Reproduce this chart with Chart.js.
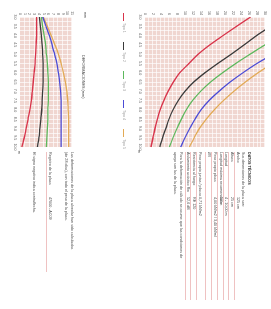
<!DOCTYPE html>
<html>
<head>
<meta charset="utf-8">
<script src="https://cdn.jsdelivr.net/npm/chart.js@4.4.0/dist/chart.umd.min.js"></script>
<style>
html, body { margin: 0; padding: 0; background: #fff; overflow: hidden; }
body { width: 271px; height: 309px; position: relative; font-family: "Liberation Sans", Arial, sans-serif; color: #4a4a4a; }
#hoja { position: absolute; left: 0; top: 0; width: 309px; height: 271px; transform-origin: 0 0; transform: translate(271px, 0) rotate(90deg); }
.abs { position: absolute; }
#grafica { left: 0; top: 0; }
#deformacion { left: 0; top: 180px; }
.mini { font-size: 3.7px; line-height: 5.7px; white-space: nowrap; }
#tabla { left: 152px; top: 20px; width: 148px; }
.fila { height: 5.7px; border-bottom: 0.5px solid #efc2c2; box-sizing: border-box; }
.fila span { display: inline-block; width: 45px; }
.tl { font-weight: bold; color: #333; }
#leyenda { left: 13px; top: 145px; width: 136px; display: flex; justify-content: space-between; align-items: center; font-size: 3.6px; color: #999; }
#leyenda i { display: inline-block; width: 8px; height: 1px; margin-right: 2px; vertical-align: middle; }
</style>
</head>
<body>
<div id="hoja">
  <canvas id="grafica" class="abs" width="168" height="140"></canvas>
  <div class="abs mini" style="left:150px; top:130px;">m</div>
  <div id="leyenda" class="abs"></div>

  <div class="abs mini" style="left:12px; top:184px;">mm</div>
  <div class="abs mini" style="left:55px; top:186px; font-size:3.8px; color:#444;">DEFORMACIONES (mm)</div>
  <canvas id="deformacion" class="abs" width="168" height="85"></canvas>
  <div class="abs mini" style="left:151px; top:250px;">m</div>

  <div id="tabla" class="abs mini">
    <div class="tl">DATOS TÉCNICOS</div>
    <div>Sus dimensiones de la placa son:</div>
    <div class="fila"><span>Ancho</span>125 cm</div>
    <div class="fila"><span>Altura</span>25 cm</div>
    <div class="fila"><span>Longitud</span>4 - 10,00 m</div>
    <div class="fila"><span>Longitud máxima recomendada</span>10 m</div>
    <div class="fila"><span>Peso propio placa</span>4,00 kN/m2 / 3,40 kN/ml</div>
    <div class="fila" style="margin-bottom:3.6px;"><span>Ø/l</span></div>
    <div class="fila"><span>Peso propio juntas / placas</span>0,71 kN/m2</div>
    <div class="fila"><span>Resistencia al fuego</span>RE 120</div>
    <div class="fila" style="margin-bottom:2.3px;"><span>Aislamiento acústico Rw</span>52,6 dB</div>
    <div>Para la deformación de cálculo se asume que las condiciones de</div>
    <div>apoyo son las de la placa.</div>
  </div>

  <div class="abs mini" style="left:152px; top:197px;">Las deformaciones de la placa alveolar han sido calculadas</div>
  <div class="abs mini" style="left:152px; top:203px;">(de 28 días), con todo el peso de la placa.</div>
  <div class="abs mini fila" style="left:152px; top:219px; width:120px;"><span>Registro de la placa</span>47000 - AC09</div>
  <div class="abs mini" style="left:152px; top:235px;">El signo negativo indica contraflecha.</div>
</div>

<script>
const vanos = [3.0, 3.5, 4.0, 4.5, 5.0, 5.5, 6.0, 6.5, 7.0, 7.5, 8.0, 8.5, 9.0, 9.5, 10.0, 10.5];
const nombres = ["Tipo 1", "Tipo 2", "Tipo 3", "Tipo 4", "Tipo 5"];
const colores = ["#d8334a", "#3a3a3a", "#5cb85c", "#4b4bd6", "#e2aa55"];

// carga admisible (kN/m2) por vano
const cargaRojo = [26.4, 22.9, 19.5, 16.2, 13.3, 11.0, 8.7, 7.1, 5.8, 4.7, 3.8, 3.1, 2.5, 2.0, 1.5, 1.0];
const cargaNegro = [null, 31.4, 27.9, 24.8, 21.6, 18.2, 15.0, 12.2, 10.0, 8.3, 7.0, 6.0, 5.2, 4.4, 3.7, 3.0];
const cargaVerde = [null, null, 34.2, 30.0, 26.3, 22.7, 19.4, 16.4, 13.9, 11.9, 10.3, 9.1, 8.0, 7.0, 6.1, 5.3];
const cargaAzul = [null, null, null, null, 32.0, 28.0, 24.5, 21.3, 18.5, 16.0, 14.0, 12.5, 11.2, 10.0, 8.9, 7.8];
const cargaNaranja = [null, null, null, null, null, 31.8, 28.3, 25.1, 22.2, 19.6, 17.3, 15.3, 13.6, 12.3, 11.1, 9.9];

// deformaciones (mm)
const deformRojo = [3.5, 3.5, 3.5, 3.4, 3.3, 3.2, 3.0, 2.8, 2.6, 2.4, 2.1, 1.7, 1.3, 0.9, 0.4, 0.0];
const deformNegro = [4.1, 4.3, 4.5, 4.7, 4.8, 4.9, 4.9, 4.9, 4.8, 4.7, 4.6, 4.4, 4.2, 4.0, 3.7, 3.4];
const deformVerde = [4.5, 4.8, 5.1, 5.4, 5.6, 5.8, 5.9, 6.0, 6.0, 6.0, 5.9, 5.9, 5.8, 5.7, 5.6, 5.5];
const deformAzul = [4.8, 5.5, 6.2, 6.8, 7.3, 7.8, 8.1, 8.4, 8.6, 8.7, 8.7, 8.7, 8.7, 8.7, 8.7, 8.7];
const deformNaranja = [4.9, 5.8, 6.6, 7.4, 8.1, 8.7, 9.2, 9.6, 9.9, 10.1, 10.2, 10.3, 10.3, 10.3, 10.3, 10.2];

Chart.defaults.font.family = "Liberation Sans";
Chart.defaults.font.size = 3.6;
Chart.defaults.color = "#555";

const fondoPlaca = {
    id: "fondoPlaca",
    beforeDraw(chart) {
        const {ctx, chartArea} = chart;
        ctx.save();
        ctx.fillStyle = "#f0d6d0";
        ctx.fillRect(chartArea.left, chartArea.top, chartArea.right - chartArea.left, chartArea.bottom - chartArea.top);
        ctx.restore();
    }
};

function puntos(valores) {
    return vanos.map((v, i) => ({x: v, y: valores[i]}));
}

function crearDatasets(series) {
    return series.map((valores, i) => ({
        label: nombres[i],
        data: puntos(valores),
        borderColor: colores[i],
        borderWidth: 1.3,
        pointRadius: 0,
        cubicInterpolationMode: "monotone",
        clip: {left: 0, top: 0, right: 14, bottom: 0}
    }));
}

function opciones(maxY, pasoEtiqueta, arriba) {
    return {
        responsive: false,
        animation: false,
        layout: {padding: {left: 0, top: arriba, right: 21, bottom: 0}},
        plugins: {legend: {display: false}, tooltip: {enabled: false}},
        scales: {
            x: {
                type: "linear", min: 3, max: 10,
                grid: {color: "rgba(255,255,255,0.95)", lineWidth: 0.7, drawTicks: false},
                border: {display: false},
                afterFit: (escala) => { escala.height = 14; },
                ticks: {
                    stepSize: 0.25, autoSkip: false, maxRotation: 0, minRotation: 0, padding: 3,
                    callback: (v) => Math.abs(v * 2 - Math.round(v * 2)) < 1e-6 ? v.toFixed(1) : ""
                }
            },
            y: {
                min: 0, max: maxY,
                grid: {color: "rgba(255,255,255,0.95)", lineWidth: 0.7, drawTicks: false},
                border: {display: false},
                afterFit: (escala) => { escala.width = 17; },
                ticks: {
                    stepSize: 1, autoSkip: false, padding: 2,
                    callback: (v) => v % pasoEtiqueta === 0 ? v : ""
                }
            }
        }
    };
}

new Chart(document.getElementById("grafica"), {
    type: "line",
    data: {datasets: crearDatasets([cargaRojo, cargaNegro, cargaVerde, cargaAzul, cargaNaranja])},
    options: opciones(30, 2, 6),
    plugins: [fondoPlaca]
});

new Chart(document.getElementById("deformacion"), {
    type: "line",
    data: {datasets: crearDatasets([deformRojo, deformNegro, deformVerde, deformAzul, deformNaranja])},
    options: opciones(11, 1, 19),
    plugins: [fondoPlaca]
});

const leyenda = document.getElementById("leyenda");
nombres.forEach((n, i) => {
    const el = document.createElement("span");
    el.innerHTML = `<i style="background:${colores[i]}"></i>${n}`;
    leyenda.appendChild(el);
});
</script>
</body>
</html>
